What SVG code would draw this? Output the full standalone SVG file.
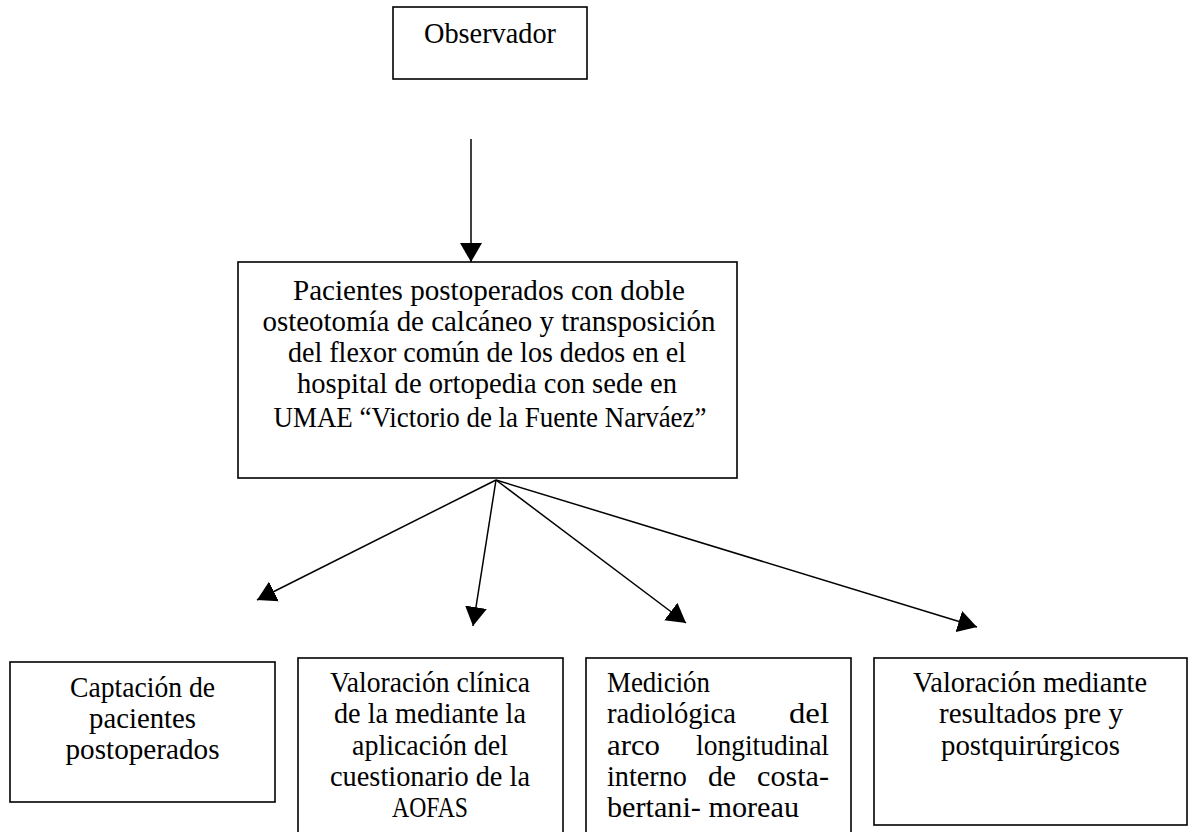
<svg xmlns="http://www.w3.org/2000/svg" width="1190" height="832" viewBox="0 0 1190 832">
<defs>
<style>
.box{fill:#fff;stroke:#000;stroke-width:1.6}
.t{font-family:"Liberation Serif","Times New Roman",serif;font-size:30px;fill:#000}
.c{text-anchor:middle}
.e{text-anchor:end}
.conn line{stroke:#000;stroke-width:1.5;marker-end:url(#arr)}
</style>
<marker id="arr" markerUnits="userSpaceOnUse" markerWidth="20" markerHeight="22" refX="19" refY="11" orient="auto">
<path d="M0,0 L19,11 L0,22 Z" fill="#000"/>
</marker>
</defs>
<rect width="1190" height="832" fill="#fff"/>
<g id="observador">
<rect class="box" x="393" y="7" width="194" height="72"/>
<text class="t c" x="490" y="43" textLength="132" lengthAdjust="spacingAndGlyphs">Observador</text>
</g>
<g id="pacientes">
<rect class="box" x="238" y="262" width="499" height="216"/>
<text class="t c" x="489" y="300" textLength="392" lengthAdjust="spacingAndGlyphs">Pacientes postoperados con doble</text>
<text class="t c" x="489" y="331" textLength="453" lengthAdjust="spacingAndGlyphs">osteotomía de calcáneo y transposición</text>
<text class="t c" x="487" y="362" textLength="398" lengthAdjust="spacingAndGlyphs">del flexor común de los dedos en el</text>
<text class="t c" x="487" y="393" textLength="380" lengthAdjust="spacingAndGlyphs">hospital de ortopedia con sede en</text>
<text class="t c" x="490" y="427" textLength="433" lengthAdjust="spacingAndGlyphs">UMAE “Victorio de la Fuente Narváez”</text>
</g>
<g id="captacion">
<rect class="box" x="10" y="662" width="265" height="140"/>
<text class="t c" x="142.5" y="697" textLength="145" lengthAdjust="spacingAndGlyphs">Captación de</text>
<text class="t c" x="142.5" y="728" textLength="107" lengthAdjust="spacingAndGlyphs">pacientes</text>
<text class="t c" x="142.5" y="759" textLength="154" lengthAdjust="spacingAndGlyphs">postoperados</text>
</g>
<g id="valoracion-clinica">
<rect class="box" x="298" y="658" width="265" height="190"/>
<text class="t c" x="430" y="692" textLength="200" lengthAdjust="spacingAndGlyphs">Valoración clínica</text>
<text class="t c" x="430" y="723" textLength="192" lengthAdjust="spacingAndGlyphs">de la mediante la</text>
<text class="t c" x="430" y="755" textLength="156" lengthAdjust="spacingAndGlyphs">aplicación del</text>
<text class="t c" x="430" y="786" textLength="200" lengthAdjust="spacingAndGlyphs">cuestionario de la</text>
<text class="t c" x="430" y="817" textLength="76" lengthAdjust="spacingAndGlyphs">AOFAS</text>
</g>
<g id="medicion">
<rect class="box" x="586" y="658" width="265" height="190"/>
<text class="t" x="607" y="692" textLength="103" lengthAdjust="spacingAndGlyphs">Medición</text>
<text class="t" x="607" y="723" textLength="129" lengthAdjust="spacingAndGlyphs">radiológica</text>
<text class="t e" x="829" y="723" textLength="40" lengthAdjust="spacingAndGlyphs">del</text>
<text class="t" x="607" y="755" textLength="53" lengthAdjust="spacingAndGlyphs">arco</text>
<text class="t e" x="829" y="755" textLength="133" lengthAdjust="spacingAndGlyphs">longitudinal</text>
<text class="t" x="607" y="786" textLength="80" lengthAdjust="spacingAndGlyphs">interno</text>
<text class="t c" x="722" y="786" textLength="28" lengthAdjust="spacingAndGlyphs">de</text>
<text class="t e" x="829" y="786" textLength="72" lengthAdjust="spacingAndGlyphs">costa-</text>
<text class="t" x="607" y="817" textLength="192" lengthAdjust="spacingAndGlyphs">bertani- moreau</text>
</g>
<g id="valoracion-resultados">
<rect class="box" x="874" y="658" width="313" height="167"/>
<text class="t c" x="1030" y="692" textLength="234" lengthAdjust="spacingAndGlyphs">Valoración mediante</text>
<text class="t c" x="1031" y="723" textLength="184" lengthAdjust="spacingAndGlyphs">resultados pre y</text>
<text class="t c" x="1030.5" y="755" textLength="179" lengthAdjust="spacingAndGlyphs">postquirúrgicos</text>
</g>
<g id="connectors" class="conn">
<line x1="471" y1="139" x2="471" y2="262"/>
<line x1="496" y1="480" x2="257" y2="600"/>
<line x1="496" y1="480" x2="473" y2="626"/>
<line x1="496" y1="480" x2="686" y2="623"/>
<line x1="496" y1="480" x2="977" y2="627"/>
</g>
</svg>
